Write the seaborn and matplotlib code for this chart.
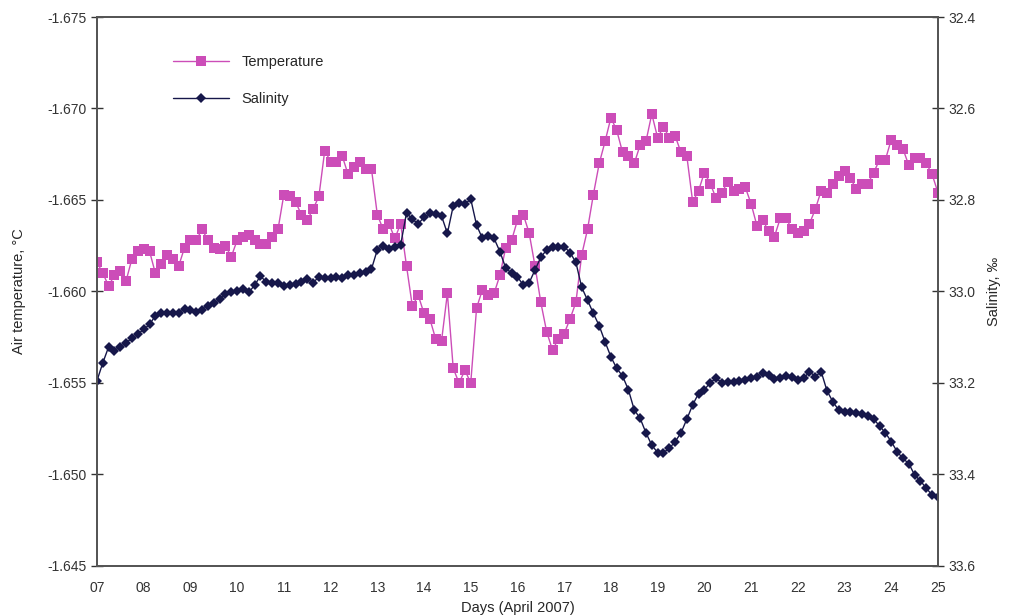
import numpy as np
import pandas as pd
import seaborn as sns
import matplotlib
matplotlib.use("Agg")
import matplotlib.pyplot as plt

# Three-hourly observations, 07-25 April 2007
days = [7 + i / 8 for i in range(145)]

temperature = [
    -1.6616, -1.6610, -1.6603, -1.6609, -1.6611, -1.6606, -1.6618, -1.6622,
    -1.6623, -1.6622, -1.6610, -1.6615, -1.6620, -1.6618, -1.6614, -1.6624,
    -1.6628, -1.6628, -1.6634, -1.6628, -1.6624, -1.6623, -1.6625, -1.6619,
    -1.6628, -1.6630, -1.6631, -1.6628, -1.6626, -1.6626, -1.6630, -1.6634,
    -1.6653, -1.6652, -1.6649, -1.6642, -1.6639, -1.6645, -1.6652, -1.6677,
    -1.6671, -1.6671, -1.6674, -1.6664, -1.6668, -1.6671, -1.6667, -1.6667,
    -1.6642, -1.6634, -1.6637, -1.6629, -1.6637, -1.6614, -1.6592, -1.6598,
    -1.6588, -1.6585, -1.6574, -1.6573, -1.6599, -1.6558, -1.6550, -1.6557,
    -1.6550, -1.6591, -1.6601, -1.6598, -1.6599, -1.6609, -1.6624, -1.6628,
    -1.6639, -1.6642, -1.6632, -1.6614, -1.6594, -1.6578, -1.6568, -1.6574,
    -1.6577, -1.6585, -1.6594, -1.6620, -1.6634, -1.6653, -1.6670, -1.6682,
    -1.6695, -1.6688, -1.6676, -1.6674, -1.6670, -1.6680, -1.6682, -1.6697,
    -1.6684, -1.6690, -1.6684, -1.6685, -1.6676, -1.6674, -1.6649, -1.6655,
    -1.6665, -1.6659, -1.6651, -1.6654, -1.6660, -1.6655, -1.6656, -1.6657,
    -1.6648, -1.6636, -1.6639, -1.6633, -1.6630, -1.6640, -1.6640, -1.6634,
    -1.6632, -1.6633, -1.6637, -1.6645, -1.6655, -1.6654, -1.6659, -1.6663,
    -1.6666, -1.6662, -1.6656, -1.6659, -1.6659, -1.6665, -1.6672, -1.6672,
    -1.6683, -1.6680, -1.6678, -1.6669, -1.6673, -1.6673, -1.6670, -1.6664,
    -1.6654,
]

salinity = [
    33.195, 33.156, 33.121, 33.129, 33.121, 33.112, 33.102, 33.093,
    33.083, 33.072, 33.053, 33.046, 33.046, 33.046, 33.048, 33.038,
    33.040, 33.044, 33.040, 33.031, 33.026, 33.017, 33.006, 33.002,
    32.999, 32.995, 33.002, 32.986, 32.966, 32.980, 32.981, 32.981,
    32.987, 32.986, 32.984, 32.979, 32.973, 32.981, 32.968, 32.971,
    32.971, 32.968, 32.971, 32.964, 32.964, 32.960, 32.957, 32.951,
    32.909, 32.900, 32.907, 32.902, 32.898, 32.828, 32.842, 32.852,
    32.838, 32.829, 32.831, 32.835, 32.873, 32.813, 32.806, 32.809,
    32.798, 32.855, 32.884, 32.879, 32.884, 32.913, 32.949, 32.960,
    32.968, 32.986, 32.981, 32.953, 32.925, 32.909, 32.902, 32.902,
    32.902, 32.915, 32.936, 32.991, 33.019, 33.048, 33.075, 33.110,
    33.143, 33.168, 33.185, 33.215, 33.259, 33.277, 33.309, 33.336,
    33.352, 33.352, 33.343, 33.328, 33.309, 33.279, 33.248, 33.223,
    33.215, 33.199, 33.190, 33.199, 33.197, 33.197, 33.195, 33.193,
    33.190, 33.186, 33.179, 33.183, 33.192, 33.190, 33.184, 33.186,
    33.193, 33.190, 33.175, 33.186, 33.175, 33.217, 33.241, 33.259,
    33.263, 33.263, 33.265, 33.268, 33.272, 33.279, 33.294, 33.309,
    33.328, 33.350, 33.365, 33.376, 33.401, 33.414, 33.430, 33.445,
    33.449,
]

day_ticks = list(range(7, 26))
day_labels = [f"{d:02d}" for d in day_ticks]
temp_ticks = [-1.675, -1.670, -1.665, -1.660, -1.655, -1.650, -1.645]
sal_ticks = [32.4, 32.6, 32.8, 33.0, 33.2, 33.4, 33.6]

df = pd.DataFrame({"day": days, "Temperature": temperature, "Salinity": salinity})

sns.set_style("white")
plt.rcParams["font.family"] = ["Liberation Sans", "DejaVu Sans"]

temp_color = "#CC4DB8"
sal_color = "#16174A"
axis_color = "#555555"

fig = plt.figure(figsize=(10.09, 6.16), dpi=100)
ax = fig.add_axes([0.0961, 0.0812, 0.8335, 0.8912])
ax2 = ax.twinx()

sns.lineplot(data=df, x="day", y="Temperature", ax=ax, color=temp_color,
             linewidth=1.0, marker="s", markersize=6.5, markeredgewidth=0,
             label="Temperature", legend=False)
sns.lineplot(data=df, x="day", y="Salinity", ax=ax2, color=sal_color,
             linewidth=1.0, marker="D", markersize=4.8, markeredgewidth=0,
             label="Salinity", legend=False)

ax.set_xlim(7, 25)
ax.set_ylim(-1.675, -1.645)
ax.invert_yaxis()
ax2.set_ylim(32.4, 33.6)
ax2.invert_yaxis()

ax.set_xticks(day_ticks)
ax.set_xticklabels(day_labels)
ax.set_yticks(temp_ticks)
ax.set_yticklabels([f"{t:.3f}" for t in temp_ticks])
ax2.set_yticks(sal_ticks)
ax2.set_yticklabels([f"{s:.1f}" for s in sal_ticks])

ax.set_xlabel("Days (April 2007)", fontsize=10.5, labelpad=4)
ax.set_ylabel("Air temperature, °C", fontsize=10.5, labelpad=15)
ax2.set_ylabel("Salinity, ‰", fontsize=10.5, labelpad=8)

for a in (ax, ax2):
    for sp in a.spines.values():
        sp.set_color(axis_color)
        sp.set_linewidth(1.3)
    a.tick_params(axis="both", colors="#333333", labelsize=10, length=6,
                  width=1.0)
ax.tick_params(axis="y", direction="inout", length=8)
ax2.tick_params(axis="y", direction="inout", length=8)
ax.tick_params(axis="x", direction="out", length=5, pad=6)

handles = ax.get_lines()[:1] + ax2.get_lines()[:1]
ax.legend(handles, ["Temperature", "Salinity"], loc="upper left",
          bbox_to_anchor=(0.075, 0.955), frameon=False, fontsize=10.5,
          handlelength=3.8, handletextpad=0.9, labelspacing=1.6)

fig.savefig("out.png", dpi=100)
